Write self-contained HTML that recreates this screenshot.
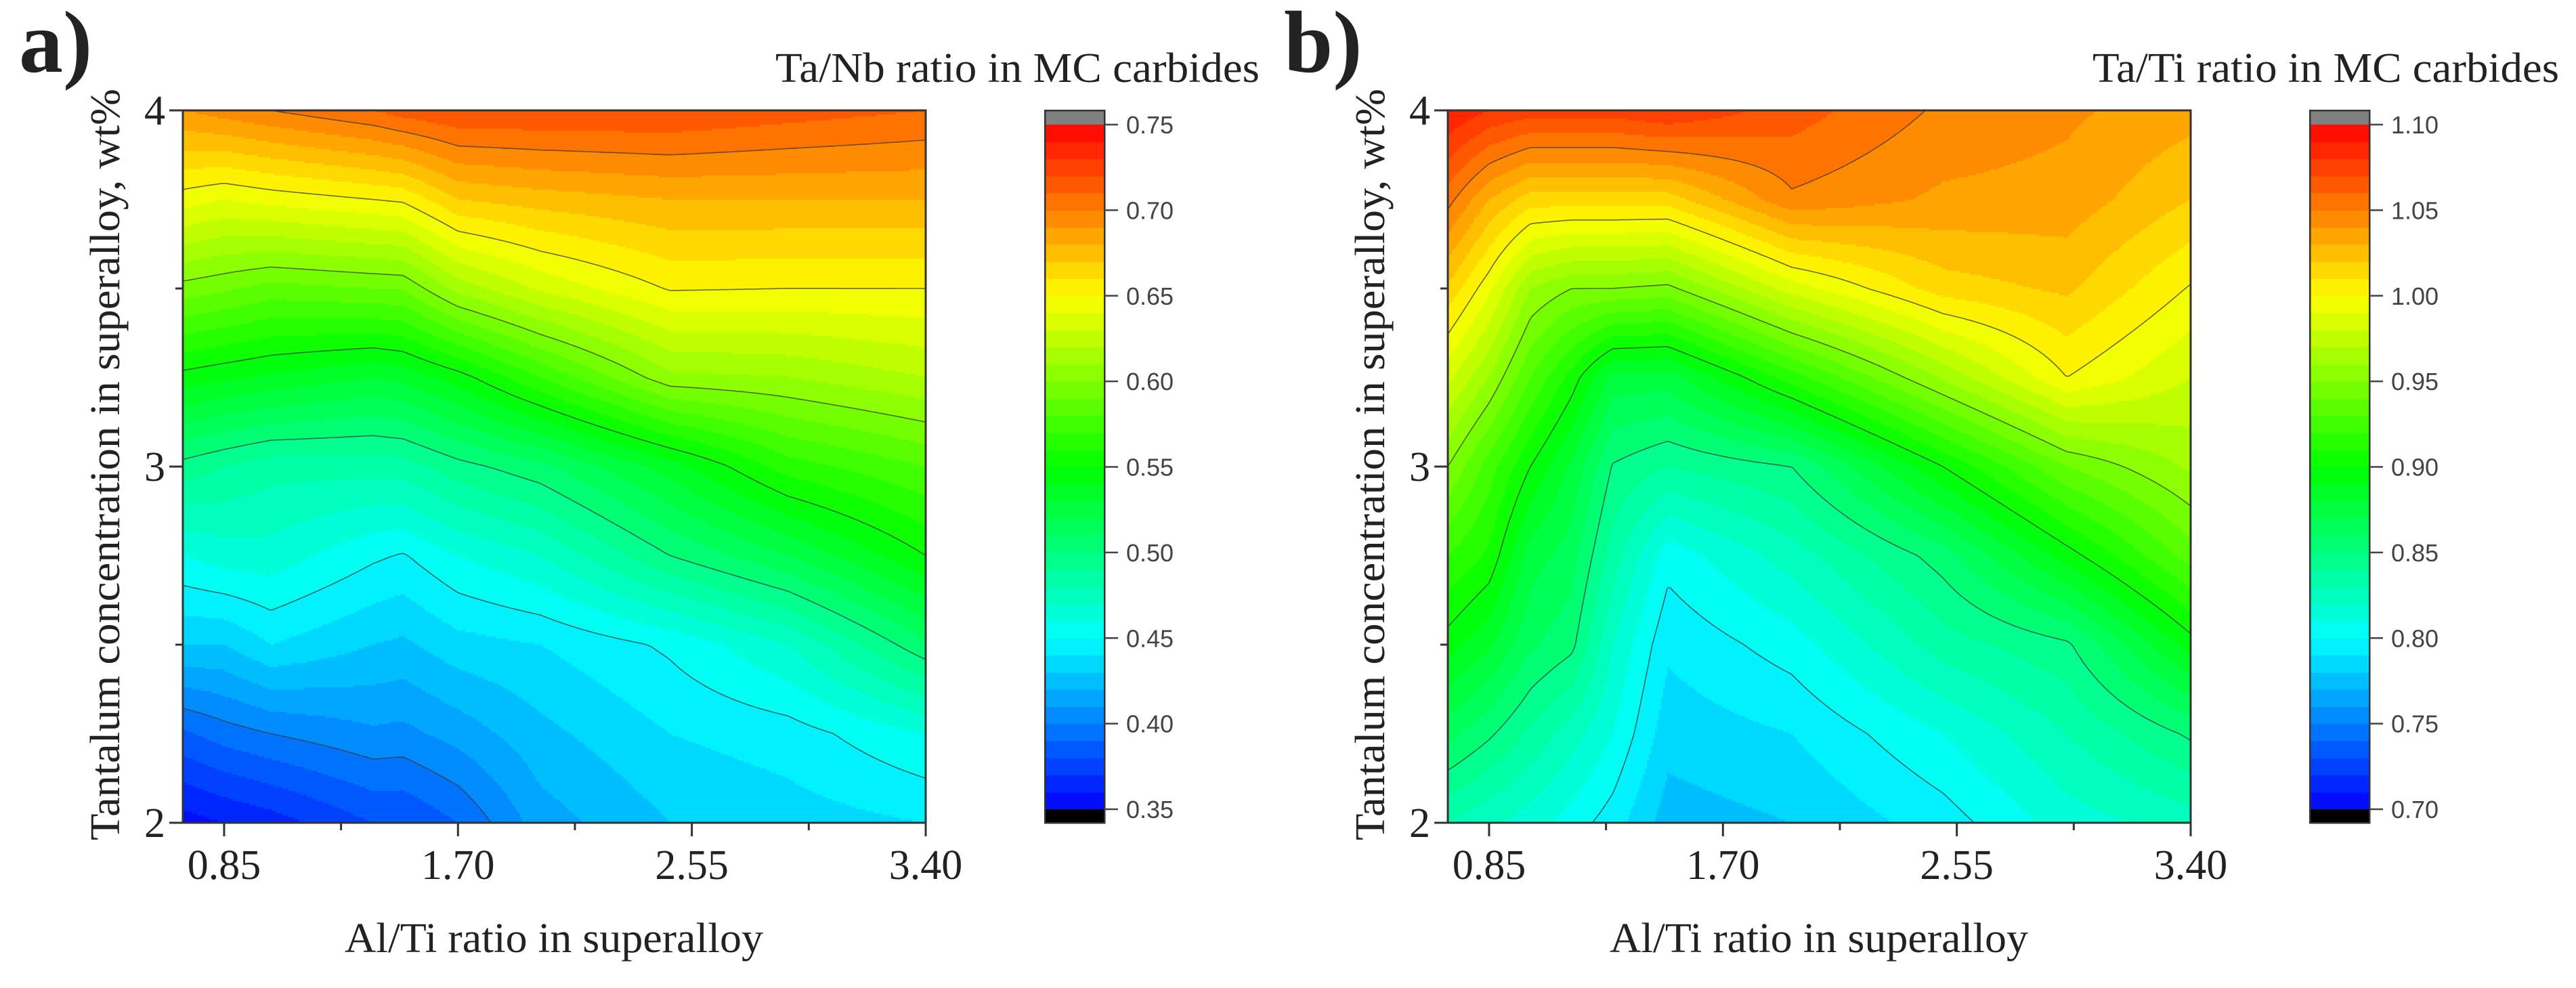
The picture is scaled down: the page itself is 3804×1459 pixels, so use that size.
<!DOCTYPE html>
<html><head><meta charset="utf-8">
<style>
html,body{margin:0;padding:0;background:#fff;}
svg{display:block;}
.serif{font-family:"Liberation Serif",serif;fill:#222;}
.sans{font-family:"Liberation Sans",sans-serif;fill:#444;}
</style></head>
<body>
<svg id="fig" width="3804" height="1459" viewBox="0 0 3804 1459" xmlns="http://www.w3.org/2000/svg"></svg>
<script>
// ---------- data ----------
const yNodes = [2.0, 2.25, 2.5, 2.75, 3.0, 3.25, 3.5, 3.75, 4.0];
const xNodesA = [0.7, 0.85, 1.02, 1.39, 1.5, 1.7, 2.0, 2.47, 2.9, 3.4];
// each row = one x node, values at yNodes (bottom -> top)
const zA = [
  [0.355,0.388,0.430,0.460,0.496,0.546,0.596,0.645,0.690],
  [0.360,0.395,0.430,0.465,0.490,0.542,0.592,0.640,0.695],
  [0.365,0.400,0.440,0.466,0.484,0.538,0.586,0.644,0.700],
  [0.380,0.408,0.430,0.452,0.484,0.530,0.590,0.650,0.710],
  [0.380,0.407,0.428,0.449,0.485,0.533,0.591,0.652,0.715],
  [0.390,0.414,0.436,0.460,0.496,0.545,0.614,0.670,0.720],
  [0.415,0.427,0.440,0.470,0.507,0.570,0.632,0.675,0.720],
  [0.430,0.440,0.452,0.500,0.535,0.607,0.651,0.680,0.720],
  [0.435,0.445,0.470,0.520,0.565,0.610,0.650,0.680,0.715],
  [0.440,0.460,0.508,0.550,0.580,0.620,0.650,0.680,0.710]
];
const xNodesB = [0.7, 0.85, 1.0, 1.15, 1.3, 1.5, 1.95, 2.5, 2.95, 3.4];
const zB = [
  [0.830,0.864,0.895,0.920,0.950,0.983,1.018,1.054,1.090],
  [0.822,0.852,0.882,0.908,0.925,0.960,0.993,1.030,1.080],
  [0.815,0.838,0.862,0.875,0.900,0.930,0.960,1.015,1.075],
  [0.805,0.825,0.853,0.865,0.878,0.906,0.950,1.015,1.075],
  [0.795,0.810,0.820,0.835,0.849,0.876,0.950,1.015,1.075],
  [0.775,0.784,0.792,0.804,0.840,0.875,0.947,1.015,1.080],
  [0.780,0.790,0.805,0.825,0.850,0.915,0.985,1.048,1.065],
  [0.795,0.810,0.835,0.855,0.900,0.962,1.015,1.038,1.048],
  [0.815,0.830,0.848,0.895,0.940,1.000,1.022,1.036,1.042],
  [0.825,0.852,0.895,0.935,0.962,0.980,0.999,1.020,1.034]
];
const xTicks = [0.85, 1.70, 2.55, 3.40];
const xTickLabels = ["0.85","1.70","2.55","3.40"];
const xMinorTicks = [1.275, 2.125, 2.975];
const yTicks = [2, 3, 4];
const yMinorTicks = [2.5, 3.5];
const cbTicksA = [0.35,0.40,0.45,0.50,0.55,0.60,0.65,0.70,0.75];
const cbTicksB = [0.70,0.75,0.80,0.85,0.90,0.95,1.00,1.05,1.10];
const levelsA = [0.40,0.45,0.50,0.55,0.60,0.65,0.70];
const levelsB = [0.75,0.80,0.85,0.90,0.95,1.00,1.05];

// ---------- helpers ----------
const NS = "http://www.w3.org/2000/svg";
const svg = document.getElementById('fig');
function mk(tag, attrs, parent, text){
  const e = document.createElementNS(NS, tag);
  for (const k in attrs) e.setAttribute(k, attrs[k]);
  if (text !== undefined) e.textContent = text;
  (parent || svg).appendChild(e);
  return e;
}
function rainbow(t){
  t = Math.max(0, Math.min(1, t));
  let r,g,b;
  if (t < 0.25){ r=0; g=255*t*4; b=255; }
  else if (t < 0.5){ r=0; g=255; b=255*(1-(t-0.25)*4); }
  else if (t < 0.75){ r=255*(t-0.5)*4; g=255; b=0; }
  else { r=255; g=255*(1-(t-0.75)*4); b=0; }
  return 'rgb('+Math.round(r)+','+Math.round(g)+','+Math.round(b)+')';
}
function locate(arr, v){
  let i = 0;
  while (i < arr.length-2 && v > arr[i+1]) i++;
  const f = (v-arr[i])/(arr[i+1]-arr[i]);
  return [i, Math.max(0, Math.min(1, f))];
}
function interp(xn, Z, x, y){
  const [i, fx] = locate(xn, x);
  const [j, fy] = locate(yNodes, y);
  const a = Z[i][j], b = Z[i+1][j], c = Z[i][j+1], d = Z[i+1][j+1];
  return (a*(1-fx)+b*fx)*(1-fy) + (c*(1-fx)+d*fx)*fy;
}

function drawPanel(off, xn, Z, vmin, vmax, cbTicks, levels, letter, key){
  const L = 270+off, R = 1367+off, T = 163, B = 1215;
  const xMin = 0.7, xMax = 3.4, yMin = 2, yMax = 4;
  const sx = x => L + (x-xMin)/(xMax-xMin)*(R-L);
  const sy = y => B - (y-yMin)/(yMax-yMin)*(B-T);
  const ix = px => xMin + (px-L)/(R-L)*(xMax-xMin);
  const iy = py => yMin + (B-py)/(B-T)*(yMax-yMin);
  const nb = 40, step = (vmax-vmin)/nb;
  const bandColor = k => rainbow((k+0.5)/nb);

  const g = mk('g', {});
  
  

  const fill = mk('g', {'shape-rendering':'crispEdges'}, g);
  
  
  const h = 3;
  function emit(x0, x1, py, hh, k){
    const r = mk('rect', {x:x0, y:py, width:x1-x0+0.6, height:hh+0.6, fill:bandColor(k)}, fill);
    
    
  }
  for (let py = T; py < B; py += h){
    const hh = Math.min(h, B-py);
    let runStart = L, runK = null;
    for (let px = L; px < R; px += h){
      const w = Math.min(h, R-px);
      const v = interp(xn, Z, ix(px+w/2), iy(py+hh/2));
      const k = Math.max(0, Math.min(nb-1, Math.floor((v-vmin)/step)));
      if (k !== runK){
        if (runK !== null) emit(runStart, px, py, hh, runK);
        runStart = px; runK = k;
      }
    }
    if (runK !== null) emit(runStart, R, py, hh, runK);
  }

  // contour lines (marching squares)
  const hs = 4;
  const nx = Math.ceil((R-L)/hs), ny = Math.ceil((B-T)/hs);
  const grid = [];
  for (let j = 0; j <= ny; j++){
    const row = [];
    const py = Math.min(B, T + j*hs);
    for (let i = 0; i <= nx; i++){
      const px = Math.min(R, L + i*hs);
      row.push(interp(xn, Z, ix(px), iy(py)));
    }
    grid.push(row);
  }
  const gp = (i,j) => [Math.min(R, L+i*hs), Math.min(B, T+j*hs)];
  levels.forEach(lv => {
    let d = '';
    for (let j = 0; j < ny; j++){
      for (let i = 0; i < nx; i++){
        const v = [grid[j][i], grid[j][i+1], grid[j+1][i+1], grid[j+1][i]];
        const p = [gp(i,j), gp(i+1,j), gp(i+1,j+1), gp(i,j+1)];
        const pts = [];
        for (let e = 0; e < 4; e++){
          const a = v[e], b = v[(e+1)%4];
          if ((a < lv) !== (b < lv)){
            const f = (lv-a)/(b-a);
            const pa = p[e], pb = p[(e+1)%4];
            pts.push([pa[0]+(pb[0]-pa[0])*f, pa[1]+(pb[1]-pa[1])*f]);
          }
        }
        for (let k = 0; k+1 < pts.length; k += 2){
          d += 'M'+pts[k][0].toFixed(1)+' '+pts[k][1].toFixed(1)+'L'+pts[k+1][0].toFixed(1)+' '+pts[k+1][1].toFixed(1);
        }
      }
    }
    const path = mk('path', {d:d, stroke:'#3a3a3a', 'stroke-width':1.6, fill:'none', 'stroke-opacity':0.75}, g);
    
    
  });

  const fr = mk('rect', {x:L, y:T, width:R-L, height:B-T, fill:'none', stroke:'#333', 'stroke-width':3}, g);
  
  

  xTicks.forEach((t, idx) => {
    const x = sx(t);
    const tk = mk('line', {x1:x, y1:B, x2:x, y2:B+20, stroke:'#333', 'stroke-width':3});
    
    
    const tl = mk('text', {x:x, y:1298, 'text-anchor':'middle', 'font-size':62, class:'serif'}, svg, xTickLabels[idx]);
    
    
  });
  xMinorTicks.forEach(t => {
    const x = sx(t);
    const tk = mk('line', {x1:x, y1:B, x2:x, y2:B+11, stroke:'#333', 'stroke-width':3});
    
    
  });
  yTicks.forEach(t => {
    const y = sy(t);
    const tk = mk('line', {x1:L-20, y1:y, x2:L, y2:y, stroke:'#333', 'stroke-width':3});
    
    
    const tl = mk('text', {x:L-26, y:y+21, 'text-anchor':'end', 'font-size':62, class:'serif'}, svg, String(t));
    
    
  });
  yMinorTicks.forEach(t => {
    const y = sy(t);
    const tk = mk('line', {x1:L-11, y1:y, x2:L, y2:y, stroke:'#333', 'stroke-width':3});
    
    
  });

  const xt = mk('text', {x:818+off, y:1406, 'text-anchor':'middle', 'font-size':62, class:'serif', textLength:618, lengthAdjust:'spacingAndGlyphs'}, svg, 'Al/Ti ratio in superalloy');
  
  
  const yt = mk('text', {x:0, y:0, 'text-anchor':'middle', 'font-size':62, class:'serif', textLength:1110, lengthAdjust:'spacingAndGlyphs', transform:'translate('+(176+off)+',686) rotate(-90)'}, svg, 'Tantalum concentration in superalloy, wt%');
  
  

  const pl = mk('text', {x:28+off, y:106, 'font-size':130, 'font-weight':'bold', class:'serif', fill:'#111'}, svg, letter);
  
  

  const cbL = 1543+off, cbR = 1631+off, cbT = 184, cbB = 1195;
  const cb = mk('g', {'shape-rendering':'crispEdges'});
  
  
  const bh = (cbB-cbT)/nb;
  for (let k = 0; k < nb; k++){
    const r = mk('rect', {x:cbL, y:cbB-(k+1)*bh, width:cbR-cbL, height:bh+0.6, fill:bandColor(k)}, cb);
    
    
  }
  const over = mk('rect', {x:cbL, y:163, width:cbR-cbL, height:cbT-163, fill:'#808080'}, cb);
  
  
  const under = mk('rect', {x:cbL, y:cbB, width:cbR-cbL, height:20, fill:'#000'}, cb);
  
  
  const cbf = mk('rect', {x:cbL, y:163, width:cbR-cbL, height:cbB+20-163, fill:'none', stroke:'#333', 'stroke-width':2.5}, cb);
  
  
  cbTicks.forEach(t => {
    const y = cbB - (t-vmin)/(vmax-vmin)*(cbB-cbT);
    const tk = mk('line', {x1:cbR, y1:y, x2:cbR+20, y2:y, stroke:'#444', 'stroke-width':2.5});
    
    
    const tl = mk('text', {x:cbR+32, y:y+13, 'font-size':36, class:'sans'}, svg, t.toFixed(2));
    
    
  });
}

drawPanel(0, xNodesA, zA, 0.35, 0.75, cbTicksA, levelsA, 'a)', 'panel-a');
drawPanel(1868, xNodesB, zB, 0.70, 1.10, cbTicksB, levelsB, 'b)', 'panel-b');

const tA = mk('text', {x:1145, y:121, 'font-size':62, class:'serif', textLength:715, lengthAdjust:'spacingAndGlyphs'}, svg, 'Ta/Nb ratio in MC carbides');


const tB = mk('text', {x:3090, y:121, 'font-size':62, class:'serif', textLength:689, lengthAdjust:'spacingAndGlyphs'}, svg, 'Ta/Ti ratio in MC carbides');


</script>
</body></html>
